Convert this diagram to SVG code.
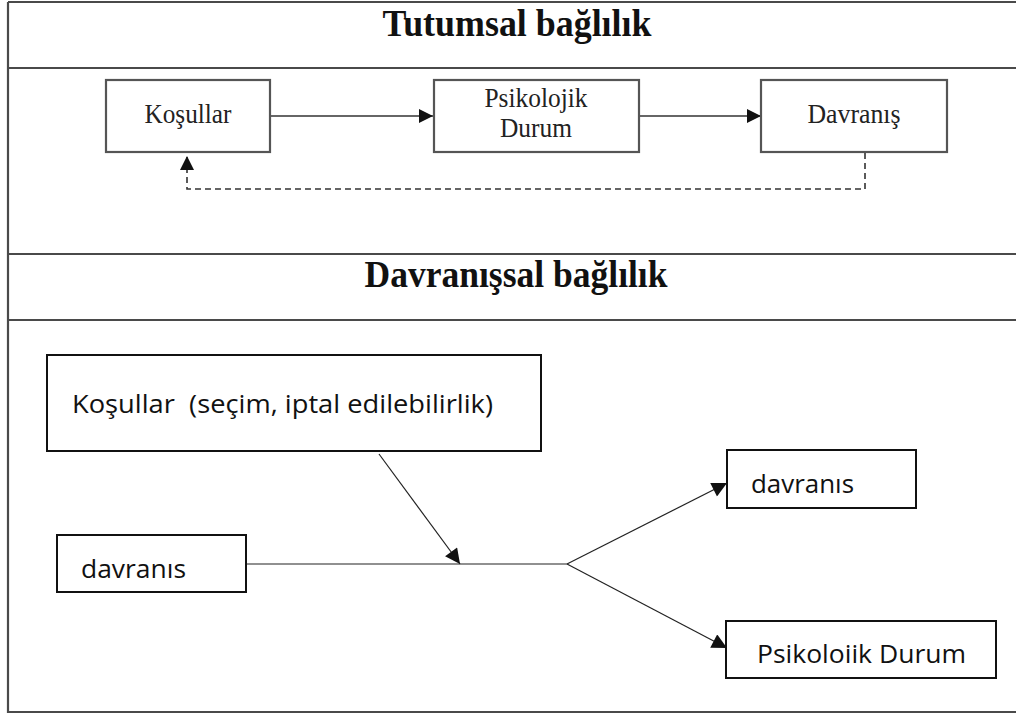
<svg xmlns="http://www.w3.org/2000/svg" width="1016" height="715" viewBox="0 0 1016 715">
  <style>
    .frame { fill: none; stroke: #4a4a4a; stroke-width: 2.2; }
    .title { font-family: "Liberation Serif", "Times New Roman", serif; font-weight: bold; font-size: 38px; fill: #111; text-anchor: middle; }
    .tbox { fill: #fff; stroke: #555; stroke-width: 2.2; }
    .tlabel { font-family: "Liberation Serif", "Times New Roman", serif; font-size: 27px; fill: #222; text-anchor: middle; }
    .bbox { fill: #fff; stroke: #111; stroke-width: 2; }
    .blabel { font-family: "Open Sans", "Noto Sans", sans-serif; font-size: 25px; fill: #111; white-space: pre; }
    .edge { fill: none; stroke: #333; stroke-width: 1.6; }
    .edge-thin { fill: none; stroke: #222; stroke-width: 1.2; }
    .dashed { stroke-dasharray: 6 4; }
  </style>
  <defs>
    <marker id="arrowL" viewBox="0 0 10 10" refX="10" refY="5" markerWidth="15" markerHeight="14" markerUnits="userSpaceOnUse" orient="auto">
      <path d="M0,0 L10,5 L0,10 z" fill="#111"/>
    </marker>
    <marker id="arrowB" viewBox="0 0 10 10" refX="10" refY="5" markerWidth="16" markerHeight="15" markerUnits="userSpaceOnUse" orient="auto">
      <path d="M0,0 L10,5 L0,10 z" fill="#111"/>
    </marker>
  </defs>

  <rect width="1016" height="715" fill="#fff"/>

  <!-- outer frame and section rules -->
  <g id="frame">
    <path class="frame" d="M8,2 H1016 M8,2 V712 H1016 M8,68 H1016 M8,254 H1016 M8,320 H1016"/>
  </g>

  <!-- section headings -->
  <g id="heading-tutumsal">
    <text class="title" x="517" y="36" textLength="269" lengthAdjust="spacingAndGlyphs">Tutumsal bağlılık</text>
  </g>
  <g id="heading-davranissal">
    <text class="title" x="516" y="287" textLength="303" lengthAdjust="spacingAndGlyphs">Davranışsal bağlılık</text>
  </g>

  <!-- connectors -->
  <g id="connectors">
    <line class="edge" x1="270" y1="116" x2="433" y2="116" marker-end="url(#arrowL)"/>
    <line class="edge" x1="639" y1="116" x2="761" y2="116" marker-end="url(#arrowL)"/>
    <polyline class="edge dashed" points="865,153 865,189 187,189 187,156" marker-end="url(#arrowL)"/>

    <line class="edge-thin" x1="379" y1="454" x2="460" y2="564" marker-end="url(#arrowB)"/>
    <line class="edge-thin" x1="246" y1="564" x2="567" y2="564"/>
    <line class="edge-thin" x1="567" y1="564" x2="727" y2="483" marker-end="url(#arrowB)"/>
    <line class="edge-thin" x1="567" y1="564" x2="727" y2="648" marker-end="url(#arrowB)"/>
  </g>

  <!-- attitudinal commitment nodes -->
  <g id="node-kosullar">
    <rect class="tbox" x="106" y="80" width="164" height="72"/>
    <text class="tlabel" x="188" y="123" textLength="87" lengthAdjust="spacingAndGlyphs">Koşullar</text>
  </g>
  <g id="node-psikolojik-durum">
    <rect class="tbox" x="434" y="80" width="205" height="72"/>
    <text class="tlabel" x="536" y="107" textLength="103" lengthAdjust="spacingAndGlyphs">Psikolojik</text>
    <text class="tlabel" x="536" y="137" textLength="72" lengthAdjust="spacingAndGlyphs">Durum</text>
  </g>
  <g id="node-davranis">
    <rect class="tbox" x="761" y="80" width="186" height="72"/>
    <text class="tlabel" x="854" y="123" textLength="93" lengthAdjust="spacingAndGlyphs">Davranış</text>
  </g>

  <!-- behavioural commitment nodes -->
  <g id="node-kosullar-secim">
    <rect class="bbox" x="47" y="355" width="494" height="96"/>
    <text class="blabel" x="72" y="413" textLength="421" lengthAdjust="spacingAndGlyphs">Koşullar  (seçim, iptal edilebilirlik)</text>
  </g>
  <g id="node-davranis-in">
    <rect class="bbox" x="57" y="535" width="189" height="57"/>
    <text class="blabel" x="81" y="578" textLength="105" lengthAdjust="spacingAndGlyphs">davranıs</text>
  </g>
  <g id="node-davranis-out">
    <rect class="bbox" x="727" y="450" width="189" height="58"/>
    <text class="blabel" x="751" y="493" textLength="103" lengthAdjust="spacingAndGlyphs">davranıs</text>
  </g>
  <g id="node-psikoloiik-durum">
    <rect class="bbox" x="726" y="621" width="270" height="57"/>
    <text class="blabel" x="757" y="663" textLength="209" lengthAdjust="spacingAndGlyphs">Psikoloiik Durum</text>
  </g>
</svg>
